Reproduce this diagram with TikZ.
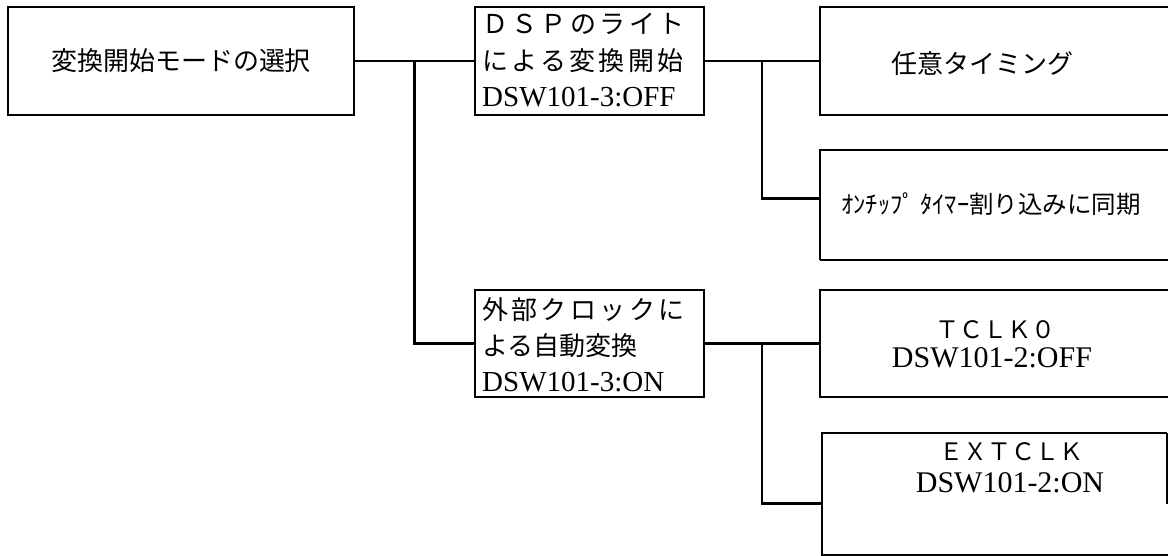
\documentclass[tikz,border=0pt]{standalone}
\usepackage{fontspec}
\setmainfont{Liberation Serif}
\newfontfamily\jp{Noto Sans CJK JP}
\newfontfamily\jpsp[LetterSpace=13]{Noto Sans CJK JP}
\newcommand\fsz[1]{\fontsize{#1}{#1}\selectfont}
\usetikzlibrary{calc}
\tikzset{
  frame/.style={draw, line width=2.6pt, inner sep=0pt, outer sep=0pt},
  ghost/.style={inner sep=0pt, outer sep=0pt},
  link/.style={line width=2.6pt},
  thinlink/.style={line width=1.2pt},
  jtxt/.style={inner sep=0pt, font=\jp\fsz{26pt}},
  jsptxt/.style={inner sep=0pt, font=\jpsp\fsz{26pt}},
  jsmall/.style={inner sep=0pt, font=\jp\fsz{24pt}},
  swtxt/.style={inner sep=0pt, font=\fsz{29pt}},
  swbig/.style={inner sep=0pt, font=\fsz{30pt}}
}
\begin{document}
\begin{tikzpicture}[x=1pt,y=-1pt]
\useasboundingbox (0,0) rectangle (1168,556);
\clip (0,0) rectangle (1168,556);
\fill[white] (0,0) rectangle (1168,556);

% boxes
\node[frame, minimum width=346pt, minimum height=108pt] (A) at (181,61) {};
\node[frame, minimum width=229pt, minimum height=108pt] (B) at (589.5,61) {};
\node[frame, minimum width=380pt, minimum height=108pt] (C) at (1010,61) {};
\node[ghost, minimum width=380pt, minimum height=110pt] (E) at (1010,205) {};
\node[frame, minimum width=229pt, minimum height=107pt] (D) at (589.5,343.5) {};
\node[frame, minimum width=380pt, minimum height=107pt] (T) at (1010,343.5) {};
\node[ghost, minimum width=345pt, minimum height=122pt] (X) at (994.5,494) {};

% E box with thin lower-left edge
\coordinate (Ein) at ($(E.north west)!0.44!(E.south west)$);
\draw[link] (Ein) -- (E.north west) -- (E.north east);
\draw[link] (E.south west) -- (E.south east);
\draw[thinlink] (Ein) -- (E.south west);

% X box, right edge only partly drawn
\coordinate (Xin) at ($(X.north west)!0.58!(X.south west)$);
\coordinate (Xr) at ($(X.north east)!0.58!(X.south east)$);
\draw[thinlink] (Xr) -- (X.north east);
\draw[link] (X.north east) -- (X.north west) -- (X.south west) -- ($(X.south east)+(10,0)$);

% connectors
\draw[link] (A.east) -- (B.west);
\coordinate (J1) at ($(A.east)!0.5!(B.west)$);
\draw[link] (J1) |- (D.west);
\draw[link] (B.east) -- (C.west);
\coordinate (J2) at ($(B.east)!0.5!(C.west)$);
\draw[link] (J2) |- (Ein);
\draw[link] (D.east) -- (T.west);
\coordinate (J3) at ($(D.east)!0.5!(T.west)$);
\draw[link] (J3) |- (Xin);

% texts
\node[jtxt] (tA) at (A.center) {変換開始モードの選択};
\node[jsptxt, anchor=west] (tB1) at (482,24) {ＤＳＰのライト};
\node[jsptxt, anchor=west] (tB2) at (482,61) {による変換開始};
\node[swtxt, anchor=west] (tB3) at (482,97) {DSW101-3:OFF};
\node[jtxt] (tC) at (982,64) {任意タイミング};
\node[inner sep=0pt, font=\jp\fsz{24.5pt}] (tE) at (991,204) {ｵﾝﾁｯﾌﾟ ﾀｲﾏｰ割り込みに同期};
\node[jsptxt, anchor=west] (tD1) at (482,310) {外部クロックに};
\node[jtxt, anchor=west] (tD2) at (482,346) {よる自動変換};
\node[swtxt, anchor=west] (tD3) at (482,382) {DSW101-3:ON};
\node[jsmall] (tT1) at (995,330) {ＴＣＬＫ０};
\node[swbig] (tT2) at (992,358) {DSW101-2:OFF};
\node[jsmall] (tX1) at (1011,452) {ＥＸＴＣＬＫ};
\node[swbig] (tX2) at (1010,483) {DSW101-2:ON};
\end{tikzpicture}
\end{document}
